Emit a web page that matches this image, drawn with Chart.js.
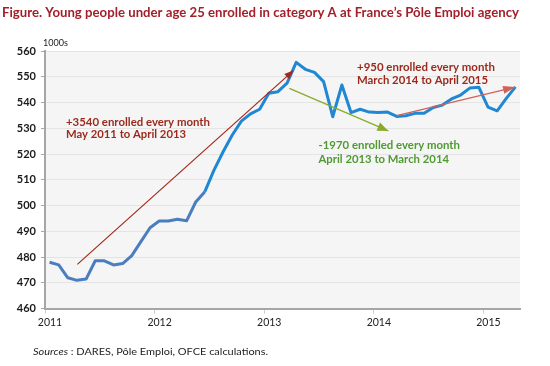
<!DOCTYPE html>
<html><head><meta charset="utf-8">
<script src="https://cdn.jsdelivr.net/npm/chart.js@4.4.0/dist/chart.umd.min.js"></script>
<style>html,body{margin:0;padding:0;background:#fff;}#wrap{width:550px;height:366px;position:relative;}</style>
</head><body><div id="wrap"><canvas id="c" width="550" height="366"></canvas></div>
<script>
// ---- data ----
const months = [];
for (let y = 2011; y <= 2015; y++) for (let m = 1; m <= 12; m++) { if (y === 2015 && m > 4) break; months.push(y + '-' + String(m).padStart(2, '0')); }
const enrolled = [478,477,472,471,471.5,478.6,478.6,477,477.5,480.6,486,491.4,
  494,494,494.7,494.1,501.4,505.4,513.8,520.9,527.4,532.8,535.6,537.4,
  543.6,544.2,547.5,555.6,552.9,551.7,548.1,534.5,546.8,536.1,537.4,536.3,
  536.1,536.3,534.6,534.9,535.8,535.8,538.1,539,541.4,542.9,545.6,545.9,
  538.2,536.8,541.6,546.1];
const yearLabels = ['2011','2012','2013','2014','2015'];
const yearStartMonth = [0,12,24,36,48];
const yTicks = [460,470,480,490,500,510,520,530,540,550,560];
// trend arrows (x in months since Jan 2011, y in thousands)
const trendUp1 = [{x:3.54,y:477.2},{x:27.19,y:552.4}];
const trendDown = [{x:26.75,y:545.5},{x:37.59,y:529.0}];
const trendUp2 = [{x:38.5,y:534.9},{x:51.46,y:546.0}];

const lineData = enrolled.map((v,i)=>({x:i+0.5,y:v}));

const bgPlugin = {
  id:'bg',
  beforeDraw(chart){
    const {ctx, chartArea:a} = chart;
    ctx.save(); ctx.fillStyle='#fff'; ctx.fillRect(0,0,chart.width,chart.height);
    ctx.fillStyle='#f5f5f5'; ctx.fillRect(a.left,a.top,a.right-a.left,a.bottom-a.top); ctx.restore();
  }
};
const arrowPlugin = {
  id:'arrows',
  afterDatasetsDraw(chart){
    const ctx = chart.ctx;
    chart.data.datasets.forEach((ds,i)=>{
      if(!ds.arrowHead) return;
      const pts = chart.getDatasetMeta(i).data;
      const p0 = pts[0], p1 = pts[pts.length-1];
      const ang = Math.atan2(p1.y-p0.y, p1.x-p0.x);
      const L = ds.arrowHead[0], W = ds.arrowHead[1];
      ctx.save(); ctx.translate(p1.x,p1.y); ctx.rotate(ang);
      ctx.fillStyle = ds.borderColor;
      ctx.beginPath(); ctx.moveTo(0,0); ctx.lineTo(-L,-W/2); ctx.lineTo(-L,W/2); ctx.closePath(); ctx.fill();
      ctx.restore();
    });
  }
};
function fitText(ctx, txt, x, y, w){
  const m = ctx.measureText(txt).width;
  const s = Math.max(0.75, Math.min(1.25, w/m));
  ctx.save(); ctx.translate(x,y); ctx.scale(s,1); ctx.fillText(txt,0,0); ctx.restore();
}
const textPlugin = {
  id:'texts',
  afterDraw(chart){
    const ctx = chart.ctx;
    ctx.save();
    ctx.textAlign='left';
    ctx.textBaseline='alphabetic';
    ctx.fillStyle='#a3202a';
    ctx.font='bold 12.5px Lato';
    fitText(ctx,'Figure. Young people under age 25 enrolled in category A at France\u2019s P\u00f4le Emploi agency',2,17,517);
    ctx.fillStyle='#222'; ctx.font='8.5px Lato';
    fitText(ctx,'1000s',43,46,25);
    ctx.textBaseline='middle';
    ctx.font='bold 11px Lato';
    ctx.fillStyle='#9b2a1c';
    fitText(ctx,'+3540 enrolled every month',66,122,144);
    fitText(ctx,'May 2011 to April 2013',66,134.5,120);
    fitText(ctx,'+950 enrolled every month',357,67,138);
    fitText(ctx,'March 2014 to April 2015',357,80.5,131);
    ctx.fillStyle='#4f9a33';
    fitText(ctx,'-1970 enrolled every month',318.5,145.5,141.5);
    fitText(ctx,'April 2013 to March 2014',318.5,159.5,130.5);
    // sources
    ctx.fillStyle='#222';
    const a='Sources', b=' : DARES, P\u00f4le Emploi, OFCE calculations.';
    ctx.font='italic 10px Lato'; const wa=ctx.measureText(a).width;
    ctx.font='10px Lato'; const wb=ctx.measureText(b).width;
    const s=235/(wa+wb);
    ctx.translate(33,352); ctx.scale(s,1);
    ctx.font='italic 10px Lato'; ctx.fillText(a,0,0);
    ctx.font='10px Lato'; ctx.fillText(b,wa,0);
    ctx.restore();
  }
};

new Chart(document.getElementById('c'),{
  type:'line',
  data:{
    labels: months,
    datasets:[
      {label:'up1', data:trendUp1, borderColor:'#a3281a', borderWidth:1.2, pointRadius:0, arrowHead:[9,7], order:0},
      {label:'down', data:trendDown, borderColor:'#8aab2a', borderWidth:1.3, pointRadius:0, arrowHead:[11,9], order:0},
      {label:'up2', data:trendUp2, borderColor:'#d0625a', borderWidth:1.3, pointRadius:0, arrowHead:[12,8], order:0},
      {label:'Young people under 25, category A', data:lineData, borderColor:'#1f87d3', borderWidth:3, pointRadius:0, tension:0, order:1,
        borderJoinStyle:'round',
        segment:{borderColor: c => c.p0DataIndex < 17 ? '#4a7ebf' : '#1f87d3'}}
    ]
  },
  options:{
    responsive:false, animation:false, devicePixelRatio:1,
    layout:{padding:{top:51,right:30,bottom:0,left:0}},
    plugins:{legend:{display:false}, tooltip:{enabled:false}, title:{display:false}},
    scales:{
      x:{type:'linear', min:0, max:52,
        afterBuildTicks: s => { s.ticks = yearStartMonth.map(v=>({value:v})); },
        afterFit: s => { s.height = 57.3; },
        ticks:{autoSkip:false, maxRotation:0, labelOffset:5, padding:3, color:'#222', font:{family:'Lato', size:10.5},
          callback: v => { const k = yearStartMonth.indexOf(v); return k>=0 ? yearLabels[k] : ''; }},
        grid:{drawOnChartArea:false, drawTicks:true, tickLength:5, tickColor:'#cfcfcf', lineWidth:1},
        border:{display:true, color:'#a6a6a6', width:2}
      },
      y:{min:460, max:560,
        afterBuildTicks: s => { s.ticks = yTicks.map(v=>({value:v})); },
        afterFit: s => { s.width = 45; },
        ticks:{padding:5, color:'#1a1a1a', font:{family:'Lato', size:11, weight:'bold'}},
        grid:{color:'#e4e4e4', lineWidth:1, drawTicks:true, tickLength:4, tickColor:'#a6a6a6'},
        border:{display:true, color:'#a6a6a6', width:2}
      }
    }
  },
  plugins:[bgPlugin, arrowPlugin, textPlugin]
});
</script></body></html>
